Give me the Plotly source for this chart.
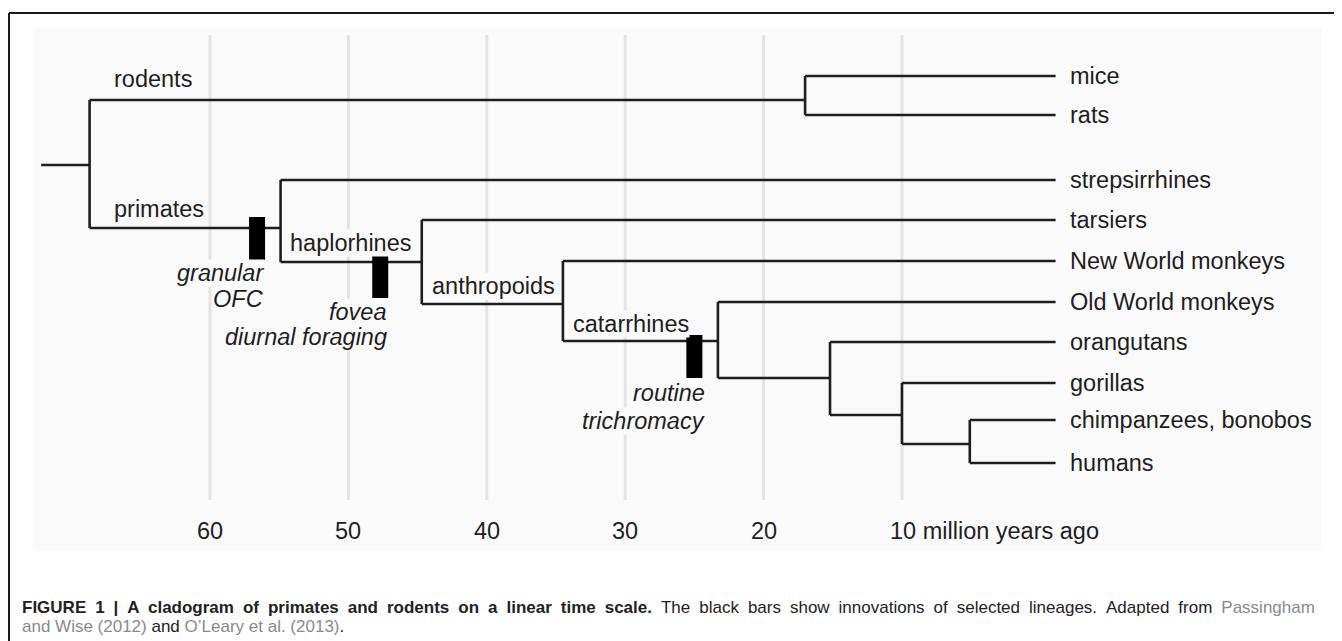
import plotly.graph_objects as go

# ---------------- data ----------------
leaf_names = ["mice", "rats", "strepsirrhines", "tarsiers", "New World monkeys",
              "Old World monkeys", "orangutans", "gorillas",
              "chimpanzees, bonobos", "humans"]
leaf_y = [76, 115, 180, 220, 261, 302, 342, 383, 420, 463]
tip_age = -1.1  # million years ago at which leaf branches end

node_names = ["root", "rodents", "primates", "haplorhines", "anthropoids",
              "catarrhines", "hominoids", "homininae", "hominini"]
node_age = [68.7, 17.0, 54.9, 44.7, 34.5, 23.3, 15.2, 10.0, 5.1]
node_y = [165, 100, 228, 262, 304, 341, 378, 415, 444]
node_children = [["rodents", "primates"], ["mice", "rats"],
                 ["strepsirrhines", "haplorhines"], ["tarsiers", "anthropoids"],
                 ["New World monkeys", "catarrhines"],
                 ["Old World monkeys", "hominoids"],
                 ["orangutans", "homininae"], ["gorillas", "hominini"],
                 ["chimpanzees, bonobos", "humans"]]
root_stem_age = 72.2

clade_labels = ["rodents", "primates", "haplorhines", "anthropoids", "catarrhines"]

innov_age = [56.6, 47.7, 25.0]
innov_y0 = [217, 256, 335]
innov_y1 = [260, 298, 378]
innov_text = [["granular", "OFC"], ["fovea", "diurnal foraging"],
              ["routine", "trichromacy"]]

grid_ages = [60, 50, 40, 30, 20, 10]
tick_text = ["60", "50", "40", "30", "20", "10 million years ago"]

caption_bold = "FIGURE 1 | A cladogram of primates and rodents on a linear time scale."
caption_rest = "The black bars show innovations of selected lineages. Adapted from"
caption_ref1a = "Passingham"
caption_ref1b = "and Wise (2012)"
caption_ref2 = "O\u2019Leary et al. (2013)"

# ---------------- layout geometry ----------------
OFF = 8                      # browser body margin
W, H = 1342 - OFF, 641 - OFF
PX0, PX1, PY0, PY1 = 33, 1322, 28, 550   # plot area in window pixels
L, R = PX0 - OFF, 1342 - PX1
T, B = PY0 - OFF, 641 - PY1
PW, PH = PX1 - PX0, PY1 - PY0
X_RANGE = [72.79, -20.35]
Y_RANGE = [550, 28]
BG = "#fafafa"
INK = "#1e1e1e"
FONT = "Liberation Sans, Arial, Helvetica, sans-serif"
FS = 23.5


def pxx(px):
    return (px - PX0) / PW


def pxy(py):
    return (PY1 - py) / PH


pos = {}
for n, y in zip(leaf_names, leaf_y):
    pos[n] = (tip_age, y)
for n, a, y in zip(node_names, node_age, node_y):
    pos[n] = (a, y)

# tree segments
tx, ty = [], []
tx += [root_stem_age, pos["root"][0], None]
ty += [pos["root"][1], pos["root"][1], None]
for n, kids in zip(node_names, node_children):
    a, _ = pos[n]
    ys = [pos[k][1] for k in kids]
    tx += [a, a, None]
    ty += [min(ys), max(ys), None]
    for k in kids:
        ka, ky = pos[k]
        tx += [a, ka, None]
        ty += [ky, ky, None]

# grid segments
gx, gy = [], []
for g in grid_ages:
    gx += [g, g, None]
    gy += [35, 500, None]

# innovation bars
bx, by = [], []
for a, y0, y1 in zip(innov_age, innov_y0, innov_y1):
    bx += [a, a, None]
    by += [y0, y1, None]

fig = go.Figure()
fig.add_trace(go.Scatter(x=gx, y=gy, mode="lines",
                         line=dict(color="#e4e4e4", width=3),
                         hoverinfo="skip", showlegend=False))
fig.add_trace(go.Scatter(x=tx, y=ty, mode="lines",
                         line=dict(color=INK, width=2.6),
                         hoverinfo="skip", showlegend=False))
fig.add_trace(go.Scatter(x=bx, y=by, mode="lines",
                         line=dict(color="#000000", width=16),
                         hoverinfo="skip", showlegend=False))

ann = []
for n, y in zip(leaf_names, leaf_y):
    ann.append(dict(x=tip_age, y=y, text=n, xanchor="left", yanchor="middle",
                    xshift=12, showarrow=False,
                    font=dict(family=FONT, size=FS, color=INK)))

clade_shift = {"rodents": (23, -21), "primates": (23, -19),
               "haplorhines": (8, -19), "anthropoids": (9, -18),
               "catarrhines": (9, -17)}
parent_of = {}
for n, kids in zip(node_names, node_children):
    for k in kids:
        parent_of[k] = n
for c in clade_labels:
    par = parent_of[c]
    dx, dy = clade_shift[c]
    ann.append(dict(x=pos[par][0], y=pos[c][1] + dy, text=c,
                    xanchor="left", yanchor="middle", xshift=dx,
                    showarrow=False, bgcolor=BG, borderpad=0,
                    font=dict(family=FONT, size=FS, color=INK)))

innov_dy = [(13, 39), (14, 39), (15, 43)]
innov_dx = [8, 8, 12]
for a, y1, lines, (d1, d2), dx in zip(innov_age, innov_y1, innov_text,
                                      innov_dy, innov_dx):
    for txt, d in zip(lines, (d1, d2)):
        ann.append(dict(x=a, y=y1 + d, text="<i>" + txt + "</i>",
                        xanchor="right", yanchor="middle", xshift=dx,
                        showarrow=False, bgcolor=BG, borderpad=0,
                        font=dict(family=FONT, size=FS, color=INK)))

for g, t in zip(grid_ages, tick_text):
    if t == "10 million years ago":
        ann.append(dict(x=g, y=531, text=t, xanchor="left", yanchor="middle",
                        xshift=-14, showarrow=False,
                        font=dict(family=FONT, size=FS, color=INK)))
    else:
        ann.append(dict(x=g, y=531, text=t, xanchor="center",
                        yanchor="middle", showarrow=False,
                        font=dict(family=FONT, size=FS, color=INK)))

# caption (justified first line: widened word gaps)
LINK = "#8a8a8a"
GAP = " \u2005"


def widen(s):
    return s.replace(" ", GAP)


cap1 = ("<b>" + widen(caption_bold) + "</b>" + GAP + widen(caption_rest) + GAP
        + "<span style='color:%s'>%s</span>" % (LINK, caption_ref1a))
cap2 = ("<span style='color:%s'>%s</span> and "
        "<span style='color:%s'>%s</span>." % (LINK, caption_ref1b, LINK, caption_ref2))
ann.append(dict(xref="paper", yref="paper", x=pxx(20), y=pxy(607), text=cap1,
                xanchor="left", yanchor="middle", showarrow=False,
                font=dict(family=FONT, size=17, color="#222222")))
ann.append(dict(xref="paper", yref="paper", x=pxx(20), y=pxy(626), text=cap2,
                xanchor="left", yanchor="middle", showarrow=False,
                font=dict(family=FONT, size=17, color="#222222")))

shapes = [
    dict(type="line", xref="paper", yref="paper", x0=pxx(9), x1=pxx(1350),
         y0=pxy(13), y1=pxy(13), line=dict(color="#1a1a1a", width=2)),
    dict(type="line", xref="paper", yref="paper", x0=pxx(9), x1=pxx(9),
         y0=pxy(13), y1=pxy(660), line=dict(color="#1a1a1a", width=2)),
]

fig.update_layout(
    width=W, height=H,
    margin=dict(l=L, r=R, t=T, b=B, pad=0),
    paper_bgcolor="white", plot_bgcolor=BG,
    xaxis=dict(range=X_RANGE, visible=False, showgrid=False, zeroline=False),
    yaxis=dict(range=Y_RANGE, visible=False, showgrid=False, zeroline=False),
    annotations=ann, shapes=shapes, showlegend=False,
)

fig.write_html("out.html")
